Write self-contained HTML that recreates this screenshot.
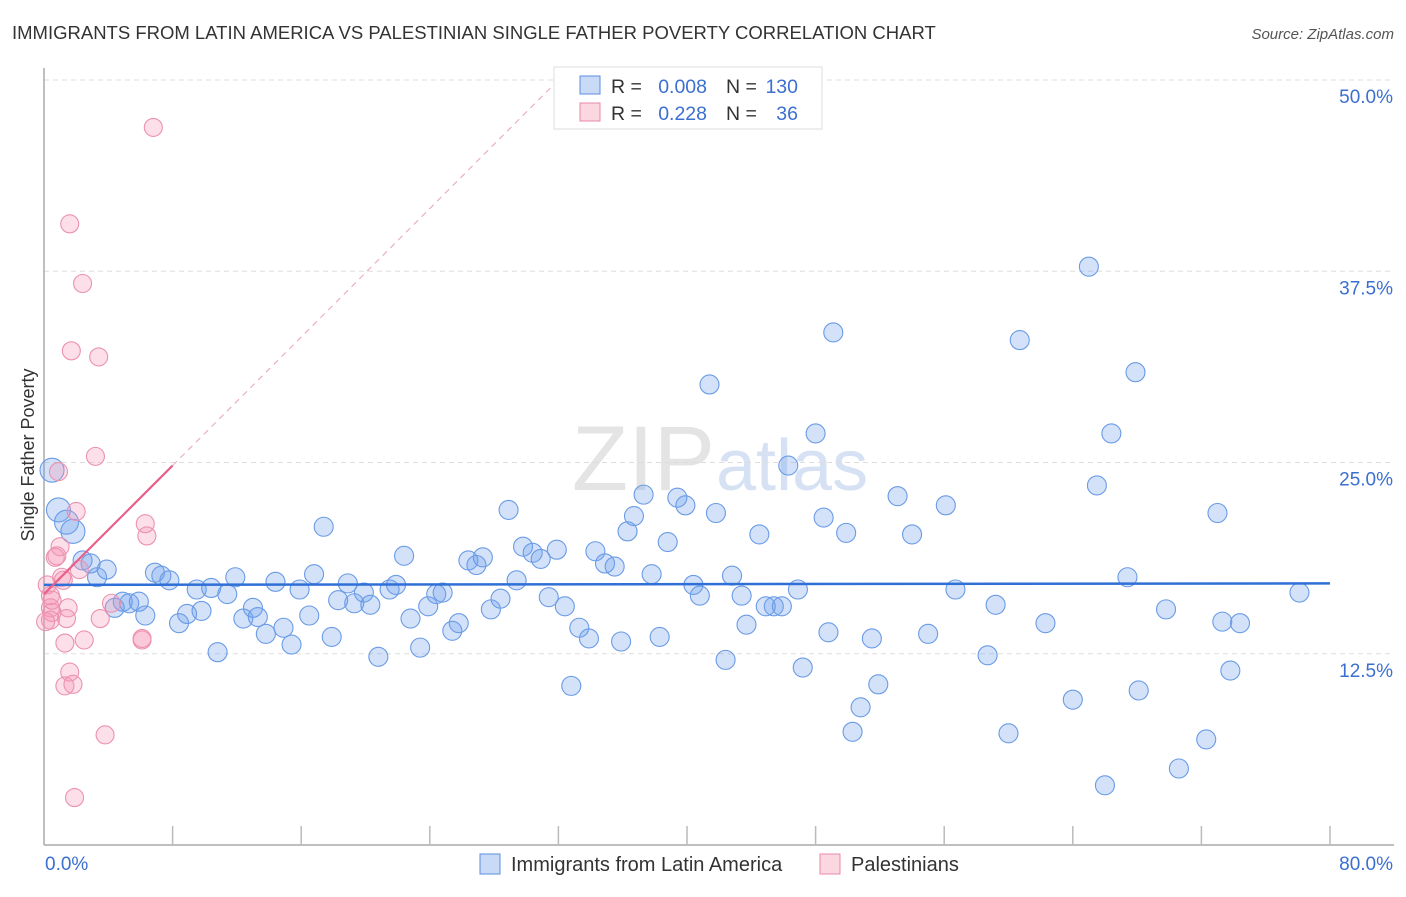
<!DOCTYPE html>
<html><head><meta charset="utf-8"><style>
body{margin:0;background:#fff;font-family:"Liberation Sans",sans-serif;}
svg text{font-family:"Liberation Sans",sans-serif;}
</style></head><body>
<svg id="chart" width="1406" height="892" viewBox="0 0 1406 892">
<text x="12" y="39" font-size="18.5" fill="#333">IMMIGRANTS FROM LATIN AMERICA VS PALESTINIAN SINGLE FATHER POVERTY CORRELATION CHART</text>
<text x="1394" y="39" font-size="15" fill="#555" font-style="italic" text-anchor="end">Source: ZipAtlas.com</text>
<text x="715" y="490" font-size="92" fill="#e4e4e4" text-anchor="end" font-family="Liberation Serif">ZIP</text>
<text x="716" y="490" font-size="72" fill="#d6e2f4">atlas</text>
<g id="grid"></g>
<g id="axes"></g>
<g id="pts"></g>
<g id="trend"></g>
<text transform="translate(34,455) rotate(-90)" font-size="18" fill="#333" text-anchor="middle">Single Father Poverty</text>
<g>
<rect x="554" y="67" width="268" height="62" fill="#fff" stroke="#ddd"/>
<rect x="580" y="76" width="20" height="18" fill="rgba(100,150,230,0.35)" stroke="#5b8fe0"/>
<rect x="580" y="103" width="20" height="18" fill="rgba(240,140,170,0.35)" stroke="#e888a8"/>
<text x="611" y="93" font-size="19.5" fill="#333">R =</text>
<text x="707" y="93" font-size="19.5" fill="#3b6fd0" text-anchor="end">0.008</text>
<text x="726" y="93" font-size="19.5" fill="#333">N =</text>
<text x="798" y="93" font-size="19.5" fill="#3b6fd0" text-anchor="end">130</text>
<text x="611" y="120" font-size="19.5" fill="#333">R =</text>
<text x="707" y="120" font-size="19.5" fill="#3b6fd0" text-anchor="end">0.228</text>
<text x="726" y="120" font-size="19.5" fill="#333">N =</text>
<text x="798" y="120" font-size="19.5" fill="#3b6fd0" text-anchor="end">36</text>
</g>
<g>
<rect x="480" y="854" width="20" height="20" fill="rgba(100,150,230,0.35)" stroke="#5b8fe0"/>
<text x="511" y="871" font-size="20" fill="#333">Immigrants from Latin America</text>
<rect x="820" y="854" width="20" height="20" fill="rgba(240,140,170,0.35)" stroke="#e888a8"/>
<text x="851" y="871" font-size="20" fill="#333">Palestinians</text>
</g>
</svg>
<script>
const yTicks=[12.5,25,37.5,50];
const xTickVals=[0,8,16,24,32,40,48,56,64,72,80];
const blueX=[0.5,0.9,1.4,1.8,2.4,2.9,3.3,3.9,4.4,4.9,5.3,5.9,6.3,6.9,7.3,7.8,8.4,8.9,9.5,9.8,10.4,10.8,11.4,11.9,12.4,13.0,13.3,13.8,14.4,14.9,15.4,15.9,16.5,16.8,17.4,17.9,18.3,18.9,19.3,19.9,20.3,20.8,21.5,21.9,22.4,22.8,23.4,23.9,24.4,24.8,25.4,25.8,26.4,26.9,27.3,27.8,28.4,28.9,29.4,29.8,30.4,30.9,31.4,31.9,32.4,32.8,33.3,33.9,34.3,34.9,35.5,35.9,36.3,36.7,37.3,37.8,38.3,38.8,39.4,39.9,40.4,40.8,41.4,41.8,42.4,42.8,43.4,43.7,44.5,44.9,45.4,45.9,46.3,46.9,47.2,48.0,48.5,48.8,49.1,49.9,50.3,50.8,51.5,51.9,53.1,54.0,55.0,56.1,56.7,58.7,59.2,60.0,60.7,62.3,64.0,65.0,65.5,66.0,66.4,67.4,67.9,68.1,69.8,70.6,72.3,73.0,73.3,73.8,74.4,78.1];
const blueY=[24.5,21.9,21.1,20.5,18.6,18.4,17.5,18.0,15.5,15.9,15.8,15.9,15.0,17.8,17.6,17.3,14.5,15.1,16.7,15.3,16.8,12.6,16.4,17.5,14.8,15.5,14.9,13.8,17.2,14.2,13.1,16.7,15.0,17.7,20.8,13.6,16.0,17.1,15.8,16.5,15.7,12.3,16.7,17.0,18.9,14.8,12.9,15.6,16.4,16.5,14.0,14.5,18.6,18.3,18.8,15.4,16.1,21.9,17.3,19.5,19.1,18.7,16.2,19.3,15.6,10.4,14.2,13.5,19.2,18.4,18.2,13.3,20.5,21.5,22.9,17.7,13.6,19.8,22.7,22.2,17.0,16.3,30.1,21.7,12.1,17.6,16.3,14.4,20.3,15.6,15.6,15.6,24.8,16.7,11.6,26.9,21.4,13.9,33.5,20.4,7.4,9.0,13.5,10.5,22.8,20.3,13.8,22.2,16.7,12.4,15.7,7.3,33.0,14.5,9.5,37.8,23.5,3.9,26.9,17.5,30.9,10.1,15.4,5.0,6.9,21.7,14.6,11.4,14.5,16.5];
const pinkX=[6.8,1.6,2.4,1.7,3.4,0.9,3.2,2.0,6.3,6.4,1.0,0.8,0.7,1.1,1.2,2.2,0.4,0.4,0.5,0.4,1.5,1.4,4.2,3.5,2.5,1.3,6.1,6.1,1.6,1.3,1.8,3.8,1.9,0.2,0.5,0.1];
const pinkY=[46.9,40.6,36.7,32.3,31.9,24.4,25.4,21.8,21.0,20.2,19.5,18.9,18.8,17.5,17.3,18.0,16.3,15.5,15.2,14.7,15.5,14.8,15.8,14.8,13.4,13.2,13.4,13.5,11.3,10.4,10.5,7.2,3.1,17.0,16.0,14.6];
const blueTrend=[17.0,17.1];
const pinkTrend=[16.4,24.8];
const pinkTrendEndX=8;
const NS="http://www.w3.org/2000/svg";
const X0=44,X1=1330,Y0=845,YTOP=80;
function xs(v){return X0+v/80*(X1-X0);}
function ys(v){return Y0-v/50*(Y0-YTOP);}
function mk(tag,attrs,parent){const e=document.createElementNS(NS,tag);for(const k in attrs)e.setAttribute(k,attrs[k]);parent.appendChild(e);return e;}
const grid=document.getElementById('grid'),axes=document.getElementById('axes'),pts=document.getElementById('pts'),tr=document.getElementById('trend');
yTicks.forEach(t=>{
 const l=mk('line',{x1:X0,x2:1394,y1:ys(t),y2:ys(t),stroke:'#ddd','stroke-dasharray':'5,4'},grid);
 
 
 const tx=mk('text',{x:1393,y:ys(t)+23,'font-size':19,fill:'#3b6fd0','text-anchor':'end'},grid);
 tx.textContent=t.toFixed(1)+'%';
 
 
});
const ya=mk('line',{x1:X0,x2:X0,y1:68,y2:Y0,stroke:'#aaa','stroke-width':1.5},axes);


const xa=mk('line',{x1:X0,x2:1394,y1:Y0,y2:Y0,stroke:'#aaa','stroke-width':1.5},axes);


xTickVals.forEach(v=>{if(v===0)return;
 const t=mk('line',{x1:xs(v),x2:xs(v),y1:826,y2:Y0,stroke:'#bbb','stroke-width':1.5},axes);
 
 
});
const xl0=mk('text',{x:45,y:870,'font-size':19,fill:'#3b6fd0'},axes);xl0.textContent='0.0%';


const xl1=mk('text',{x:1393,y:870,'font-size':19,fill:'#3b6fd0','text-anchor':'end'},axes);xl1.textContent='80.0%';


blueX.forEach((x,i)=>{
 const big=(x<2&&blueY[i]>20);
 const c=mk('circle',{cx:xs(x),cy:ys(blueY[i]),r:big?12:9.5,fill:'rgba(110,160,235,0.3)',stroke:'#6a9be6','stroke-width':1.1},pts);
 
 
});
pinkX.forEach((x,i)=>{
 const c=mk('circle',{cx:xs(x),cy:ys(pinkY[i]),r:9,fill:'rgba(245,150,180,0.3)',stroke:'#eb92b0','stroke-width':1.1},pts);
 
 
});
const bt=mk('line',{x1:xs(0),x2:xs(80),y1:ys(blueTrend[0]),y2:ys(blueTrend[1]),stroke:'#2f6fd6','stroke-width':2.5},tr);


const slope=(pinkTrend[1]-pinkTrend[0])/pinkTrendEndX;
const pt=mk('line',{x1:xs(0),x2:xs(pinkTrendEndX),y1:ys(pinkTrend[0]),y2:ys(pinkTrend[1]),stroke:'#e8608a','stroke-width':2.2},tr);


const xe=(50-pinkTrend[0])/slope;
const pd=mk('line',{x1:xs(pinkTrendEndX),x2:xs(xe),y1:ys(pinkTrend[1]),y2:ys(50),stroke:'#e8a0b6','stroke-width':1,'stroke-dasharray':'6,5'},tr);


</script>
</body></html>
